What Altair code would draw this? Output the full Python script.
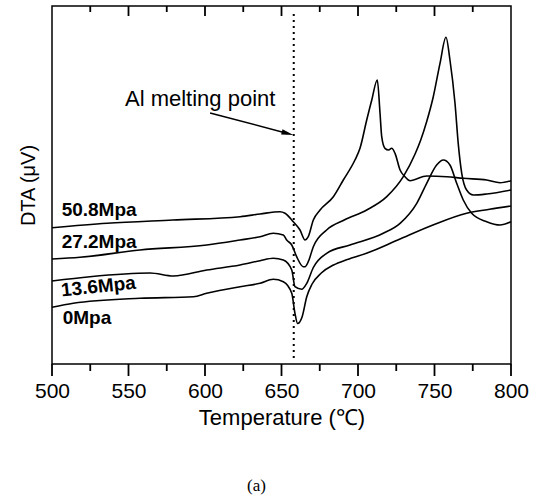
import altair as alt
import pandas as pd

# ---- curve data (temperature in degC, DTA in arbitrary units) ----
temp_508 = [500, 536, 579, 623, 636, 649, 652.3, 657.7, 662.1, 665.4, 667.5, 670.8, 675.2, 683.9,
            690.4, 698, 701.3, 705.7, 709, 712.6, 714.4, 715.5, 717.6, 720, 722, 724.2, 727.5,
            730.7, 734, 744.9, 758, 768.8, 784.1, 792.8, 800]
dta_508 = [136.3, 140.7, 144, 147.3, 150, 152.3, 150.7, 142.3, 134, 124, 127.3, 144, 154, 167.3,
           184, 204, 215.7, 244, 264, 284, 250.7, 227.3, 215.7, 214, 215.7, 210.7, 194,
           187.3, 183.3, 188, 187.3, 185.7, 184, 181.3, 183.3]

temp_272 = [500, 518.3, 557.5, 601.1, 622.9, 636, 644.6, 651.2, 653.4, 656.7, 659.9, 664.2, 665.4,
            667.5, 670.8, 679.5, 691, 705.7, 718.8, 729.6, 737.3, 741, 745, 749.2, 753.6, 757.5,
            760.1, 763.4, 765.5, 767.8, 771, 775.4, 784.1, 800]
dta_272 = [105, 106.7, 114, 119, 124, 127.3, 130.7, 129, 124, 119, 107.3, 97.3, 97.3,
           102.3, 117.3, 134, 144, 154, 167.3, 187.3, 210, 224, 243, 267.3, 300.7, 326.7,
           304, 260.7, 220.7, 190.7, 174, 169, 170, 174]

temp_136 = [500, 524.8, 564.1, 579.3, 601.1, 622.9, 636, 644.6, 651.2, 656.7, 658.8, 663.2, 666.5,
            670.8, 679.5, 694.8, 716.5, 727.5, 738.4, 744.9, 751.4, 755.8, 760.1, 764.5, 768.8,
            774.3, 784.1, 792.8, 800]
dta_136 = [83, 87.3, 91, 88, 94, 99, 103.3, 105.7, 104, 94, 77.3, 74.7, 80.7,
           96.5, 110.7, 119, 130.7, 140.7, 160.7, 180.7, 199, 204, 199, 180.7, 164,
           150.7, 142.3, 139, 142.3]

temp_0 = [500, 513.9, 557.5, 592.4, 601.1, 622.9, 636, 644.6, 651.2, 656.7, 658.8, 660.5, 663.5,
          666.5, 670, 676, 684, 693, 706, 726, 749, 771, 786, 800]
dta_0 = [56.7, 60.7, 65.7, 67.3, 70.7, 77.3, 80.7, 84.7, 82.3, 70.7, 50.7, 40.5, 47.3,
         67.3, 80, 91, 99, 104.5, 111, 124, 139, 150.7, 154.7, 158]

series_names = ["50.8Mpa", "27.2Mpa", "13.6Mpa", "0Mpa"]
series_temps = [temp_508, temp_272, temp_136, temp_0]
series_dtas = [dta_508, dta_272, dta_136, dta_0]

# label anchor points (data space)
label_names = ["50.8Mpa", "27.2Mpa", "0Mpa"]
label_t = [506.3, 506.3, 507]
label_v = [148, 116, 40]
tilted_name = ["13.6Mpa"]
tilted_t = [506.3]
tilted_v = [67.5]

melting_t = [658]
annot_text = ["Al melting point"]
annot_t = [547.7]
annot_v = [258]
arrow_t0, arrow_v0, arrow_t1, arrow_v1 = [603.3], [251], [654], [230.6]

major_ticks = list(range(500, 801, 50))
minor_ticks = list(range(525, 800, 50))
top_major_ticks = list(range(550, 800, 50))

rows = []
for name, ts, vs in zip(series_names, series_temps, series_dtas):
    for t, v in zip(ts, vs):
        rows.append({"series": name, "T": t, "DTA": v})
df = pd.DataFrame(rows)

SANS = "Liberation Sans, Arial, Helvetica, sans-serif"

x_scale = alt.Scale(domain=[500, 800], nice=False, zero=False)
y_scale = alt.Scale(domain=[0, 358], nice=False, zero=False)

x_axis = alt.Axis(
    values=major_ticks, ticks=False, domain=False, grid=False,
    labelFont=SANS, labelFontSize=21, labelColor="black", labelPadding=16,
    labelFlush=False, labelOverlap=False,
    title="Temperature (℃)", titleFont=SANS, titleFontSize=22,
    titleFontWeight="normal", titleColor="black", titlePadding=6,
)
y_axis = alt.Axis(
    labels=False, ticks=False, domain=False, grid=False,
    title="DTA (μV)", titleFont=SANS, titleFontSize=20, titleFontWeight="normal",
    titleColor="black", titlePadding=14,
)

lines = alt.Chart(df).mark_line(color="black", strokeWidth=1.6, interpolate="monotone").encode(
    x=alt.X("T:Q", scale=x_scale, axis=x_axis),
    y=alt.Y("DTA:Q", scale=y_scale, axis=y_axis),
    detail="series:N",
)

minor_df = pd.DataFrame({"T": minor_ticks})
major_df = pd.DataFrame({"T": major_ticks})
top_maj_df = pd.DataFrame({"T": top_major_ticks})
top_major = alt.Chart(top_maj_df).mark_rule(color="black", strokeWidth=1.8).encode(
    x="T:Q", y=alt.value(0), y2=alt.value(10))
top_minor = alt.Chart(minor_df).mark_rule(color="black", strokeWidth=1.8).encode(
    x="T:Q", y=alt.value(0), y2=alt.value(6))
bottom_minor = alt.Chart(minor_df).mark_rule(color="black", strokeWidth=1.8).encode(
    x="T:Q", y=alt.value(358), y2=alt.value(365))
bottom_major = alt.Chart(major_df).mark_rule(color="black", strokeWidth=1.8).encode(
    x="T:Q", y=alt.value(358), y2=alt.value(370))

melt_df = pd.DataFrame({"T": melting_t})
melt_rule = alt.Chart(melt_df).mark_rule(color="black", strokeWidth=2, strokeDash=[2, 4]).encode(
    x="T:Q", y=alt.value(8), y2=alt.value(356))

lab_df = pd.DataFrame({"name": label_names, "T": label_t, "DTA": label_v})
labels = alt.Chart(lab_df).mark_text(
    font=SANS, fontSize=19, fontWeight="bold", color="black", align="left", baseline="alphabetic"
).encode(x="T:Q", y="DTA:Q", text="name:N")

tilt_df = pd.DataFrame({"name": tilted_name, "T": tilted_t, "DTA": tilted_v})
tilted = alt.Chart(tilt_df).mark_text(
    font=SANS, fontSize=19, fontWeight="bold", color="black", align="left",
    baseline="alphabetic", angle=354
).encode(x="T:Q", y="DTA:Q", text="name:N")

ann_df = pd.DataFrame({"txt": annot_text, "T": annot_t, "DTA": annot_v})
annot = alt.Chart(ann_df).mark_text(
    font=SANS, fontSize=22, color="black", align="left", baseline="alphabetic"
).encode(x="T:Q", y="DTA:Q", text="txt:N")

arr_df = pd.DataFrame({"T0": arrow_t0, "V0": arrow_v0, "T1": arrow_t1, "V1": arrow_v1})
arrow_line = alt.Chart(arr_df).mark_rule(color="black", strokeWidth=1.5).encode(
    x="T0:Q", y="V0:Q", x2="T1:Q", y2="V1:Q")
arrow_head = alt.Chart(arr_df).mark_point(
    shape="M1,0L-1,-0.45L-1,0.45Z", filled=True, color="black", opacity=1, size=144, angle=15
).encode(x="T1:Q", y="V1:Q")

chart = alt.layer(
    lines, top_major, top_minor, bottom_minor, bottom_major, melt_rule, labels, tilted, annot,
    arrow_line, arrow_head
).properties(
    width=459, height=358,
    autosize=alt.AutoSizeParams(type="none"),
    padding={"left": 52, "top": 6, "right": 29, "bottom": 136},
    title=alt.TitleParams("(a)", orient="bottom", font="Liberation Serif, DejaVu Serif, serif",
                          fontSize=17, fontWeight="normal", color="black", dx=-25, offset=50),
).configure_view(stroke="black", strokeWidth=1.5)

chart.save("out.html", embed_options={"renderer": "svg", "actions": False})
